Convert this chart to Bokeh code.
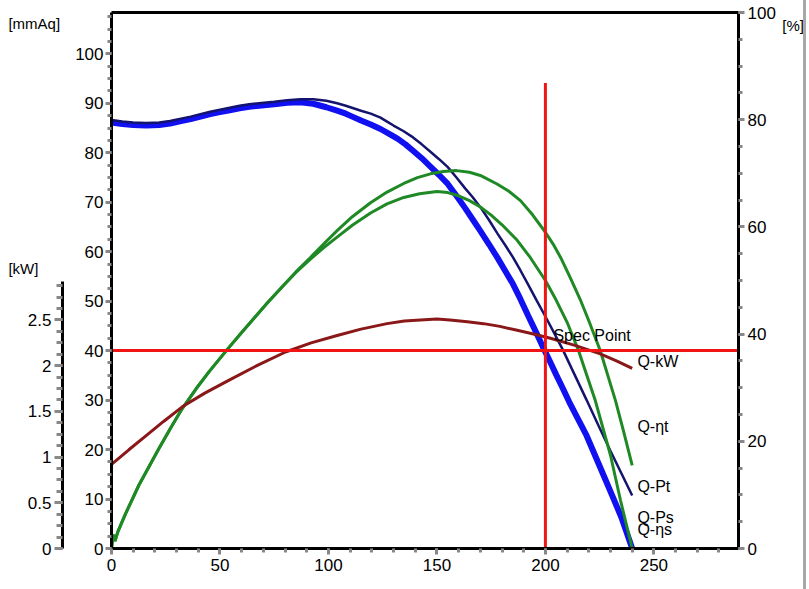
from bokeh.plotting import figure
from bokeh.models import Range1d, LinearAxis, SingleIntervalTicker, FixedTicker, Label
from bokeh.embed import file_html
from bokeh.resources import INLINE

# ---------------- data ----------------
# Q-Ps static pressure [mmAq]
q_ps = [0, 5, 10, 16, 22, 27, 32, 36.5, 41, 45.5, 50, 54.5, 59, 63.5, 68, 75, 81, 87, 93, 99,
        104, 108, 111.5, 115, 119.5, 124, 128, 132, 135.5, 139, 143, 147, 151, 155, 159, 163,
        166.5, 170, 174, 178, 181.5, 185, 188.5, 192, 195.5, 199, 202, 205, 208, 211, 215,
        219, 223, 227, 231, 235, 237.5, 240]
p_s = [86.1, 85.8, 85.6, 85.5, 85.6, 85.9, 86.4, 86.8, 87.3, 87.8, 88.2, 88.6, 89.0, 89.3,
       89.5, 89.8, 90.1, 90.2, 89.9, 89.2, 88.5, 87.9, 87.2, 86.5, 85.7, 84.8, 83.8, 82.8,
       81.7, 80.4, 78.9, 77.2, 75.5, 73.7, 71.3, 68.8, 66.5, 64.2, 61.5, 58.7, 56.1, 53.5,
       50.4, 47.1, 43.9, 40.6, 37.9, 35.1, 32.4, 29.6, 26.2, 22.8, 18.7, 14.6, 10.5, 6.3,
       3.2, 0]
# Q-Pt total pressure [mmAq]
q_pt = [0, 5, 10, 16, 22, 27, 32, 36.5, 41, 45.5, 50, 54.5, 59, 63.5, 68, 75, 81, 87, 93, 99,
        104, 108, 111.5, 115, 119.5, 124, 127, 130, 134.5, 139, 143, 147, 151, 155, 159, 163,
        166.5, 170, 174, 178, 181.5, 185, 188.5, 192, 196, 200, 204, 208, 213.5, 219, 224.5,
        230, 235, 240]
p_t = [86.6, 86.3, 86.1, 86.0, 86.1, 86.4, 86.9, 87.3, 87.8, 88.3, 88.7, 89.1, 89.5, 89.8,
       90.0, 90.3, 90.6, 90.8, 90.8, 90.5, 90.0, 89.5, 89.0, 88.5, 87.9, 87.1, 86.3, 85.5,
       84.4, 83.1, 81.7, 80.2, 78.7, 77.1, 75.0, 72.8, 71.0, 69.0, 66.4, 63.6, 61.3, 58.9,
       56.2, 53.4, 50.1, 46.9, 43.6, 40.2, 35.1, 30.0, 24.8, 19.7, 15.2, 10.7]
# Q-eta_t total efficiency [%]
q_et = [0, 0.8, 1.6, 3, 6.5, 12.6, 21.8, 27, 32.6, 39, 45, 53.3, 60, 66.4, 72, 78.6, 85,
        91.7, 98, 104, 111, 119.4, 127, 134.7, 141, 147, 153, 159, 165, 170, 177.7, 183,
        188.5, 194, 200, 204, 207, 211.5, 216, 220, 225.3, 232.3, 236, 240]
eta_t = [0, 2.6, 1.4, 3.2, 6.5, 11.8, 18.6, 22.3, 26.1, 29.8, 33.0, 37.1, 40.3, 43.3, 45.9,
         48.8, 51.6, 54.3, 56.9, 59.3, 61.9, 64.5, 66.5, 68.1, 69.2, 69.9, 70.35, 70.5, 70.2,
         69.6, 68.0, 66.7, 64.9, 62.3, 59.0, 56.5, 54.3, 50.5, 46.5, 42.5, 36.9, 27.6, 21.9, 15.5]
# Q-eta_s static efficiency [%]
q_es = [0, 0.8, 1.6, 3, 6.5, 12.6, 21.8, 27, 32.6, 39, 45, 53.3, 60, 66.4, 72, 78.6, 85,
        91.7, 98, 104, 111, 119.4, 127, 134.7, 142, 150, 155, 160, 165, 170, 175, 180, 187,
        193, 200, 205, 210, 215.3, 219, 223, 230, 234.6, 240]
eta_s = [0, 2.6, 1.4, 3.2, 6.5, 11.8, 18.6, 22.3, 26.1, 29.8, 33.0, 37.1, 40.3, 43.3, 45.9,
         48.8, 51.5, 54.0, 56.2, 58.1, 60.3, 62.6, 64.3, 65.5, 66.2, 66.6, 66.4, 65.8, 64.9,
         63.7, 62.2, 60.4, 57.5, 54.3, 50.0, 46.3, 42.2, 36.9, 32.4, 27.6, 17.4, 9.0, 0]
# Q-kW shaft power [kW]
q_kw = [0, 8, 15.7, 24, 32.6, 43, 54, 67, 80.2, 92, 104, 115, 127, 135, 142.4, 150, 156,
        164, 171.5, 179, 186.5, 194, 202.3, 214, 225.3, 233, 240]
kw = [0.92, 1.08, 1.23, 1.39, 1.55, 1.70, 1.84, 2.00, 2.15, 2.25, 2.33, 2.40, 2.46, 2.49,
      2.50, 2.51, 2.50, 2.48, 2.46, 2.43, 2.39, 2.35, 2.30, 2.22, 2.13, 2.05, 1.97]
# spec point (Q = 200, P = 40 mmAq)
spec_q = [200]
spec_p = [40]
spec_top = [94.1]

# axis extents
q_min, q_max = 0, 289
p_max = 108.35
pct_max = 100
kw_max = 5.864
kw_axis_top = 2.92

# ---------------- layout (pixels) ----------------
W, H = 806, 589
FL, FR, FT, FB = 111, 738, 12, 548     # plot box
KW_AXIS_X = 62
FONT = "Liberation Sans"


def ext(lo, hi, px_lo, px_hi, px_total):
    """extend a data range so that [lo, hi] maps onto pixels [px_lo, px_hi] of a canvas."""
    per = (hi - lo) / (px_hi - px_lo)
    return lo - px_lo * per, hi + (px_total - px_hi) * per


x0, x1 = ext(q_min, q_max, FL, FR, W)
y0, y1 = ext(0, p_max, H - FB, H - FT, H)
c0, c1 = ext(0, pct_max, H - FB, H - FT, H)
k0, k1 = ext(0, kw_max, H - FB, H - FT, H)
kw_fixed_x = q_min + (KW_AXIS_X - FL) * (q_max - q_min) / (FR - FL)

p = figure(width=W, height=H, output_backend="svg", toolbar_location=None,
           x_range=Range1d(x0, x1), y_range=Range1d(y0, y1),
           min_border=0, min_border_left=0, min_border_right=0,
           min_border_top=0, min_border_bottom=0)
p.title.visible = False
p.styles = {"border-right": "3px solid #a8a8a8"}
p.xgrid.visible = False
p.ygrid.visible = False
p.outline_line_color = None
p.background_fill_color = "white"
p.border_fill_color = "white"

p.extra_y_ranges = {"pct": Range1d(c0, c1), "kw": Range1d(k0, k1)}


def style_axis(ax, size="17px"):
    ax.axis_line_color = "black"
    ax.axis_line_width = 3
    ax.major_tick_line_color = "#888888"
    ax.minor_tick_line_color = "#888888"
    ax.major_tick_line_width = 3
    ax.minor_tick_line_width = 3
    ax.major_tick_in = 0
    ax.minor_tick_in = 0
    ax.major_tick_out = 6
    ax.minor_tick_out = 4
    ax.major_label_text_font = FONT
    ax.major_label_text_font_size = size
    ax.major_label_text_color = "black"
    ax.major_label_standoff = 2


xa = p.xaxis[0]
xa.ticker = SingleIntervalTicker(interval=50, num_minor_ticks=5)
xa.fixed_location = 0
xa.bounds = (q_min, q_max)
style_axis(xa)
xa.major_label_standoff = 4

ya = p.yaxis[0]
ya.ticker = SingleIntervalTicker(interval=10, num_minor_ticks=4)
ya.fixed_location = q_min
ya.bounds = (0, p_max)
style_axis(ya)

kw_axis = LinearAxis(y_range_name="kw", bounds=(0, kw_axis_top), fixed_location=kw_fixed_x,
                     ticker=SingleIntervalTicker(interval=0.5, num_minor_ticks=4))
style_axis(kw_axis)
kw_axis.major_tick_out = 8
kw_axis.minor_tick_out = 6
kw_axis.major_label_standoff = 3
p.add_layout(kw_axis, "left")

pct_axis = LinearAxis(y_range_name="pct", bounds=(0, pct_max), fixed_location=q_max,
                      ticker=SingleIntervalTicker(interval=20, num_minor_ticks=4))
style_axis(pct_axis)
pct_axis.major_label_standoff = 3
p.add_layout(pct_axis, "right")

top_axis = LinearAxis(bounds=(q_min, q_max), fixed_location=p_max, ticker=FixedTicker(ticks=[]))
top_axis.axis_line_color = "black"
top_axis.axis_line_width = 3
top_axis.major_tick_line_color = None
top_axis.minor_tick_line_color = None
p.add_layout(top_axis, "above")

# ---------------- curves ----------------
p.line(q_ps, p_s, line_color="#1010f0", line_width=6)
p.line(q_pt, p_t, line_color="#14146e", line_width=2.5)
p.line(q_et, eta_t, y_range_name="pct", line_color="#1f8a25", line_width=3)
p.line(q_es, eta_s, y_range_name="pct", line_color="#1f8a25", line_width=3)
p.line(q_kw, kw, y_range_name="kw", line_color="#8b1818", line_width=3)

# spec point cross
p.segment(x0=[q_min], y0=spec_p, x1=[q_max], y1=spec_p, line_color="#f01414", line_width=3)
p.segment(x0=spec_q, y0=[0], x1=spec_q, y1=spec_top, line_color="#f01414", line_width=3)


# ---------------- texts ----------------
def lab(x, y, t, size="16px", rng="default"):
    p.add_layout(Label(x=x, y=y, text=t, text_font=FONT, text_font_size=size,
                       text_color="black", text_baseline="middle", text_align="left",
                       y_range_name=rng))


lab(203.7, 43.1, "Spec Point")
lab(242.4, 37.8, "Q-kW")
lab(242.4, 24.7, "Q-ηt")
lab(242.4, 12.5, "Q-Pt")
lab(242.4, 6.2, "Q-Ps")
lab(242.4, 3.8, "Q-ηs")
lab(-47.5, 106.2, "[mmAq]", "15px")
lab(-47.5, 56.6, "[kW]", "15px")
lab(309.2, 105.7, "[%]", "15px")

open("out.html", "w").write(file_html(p, INLINE))
